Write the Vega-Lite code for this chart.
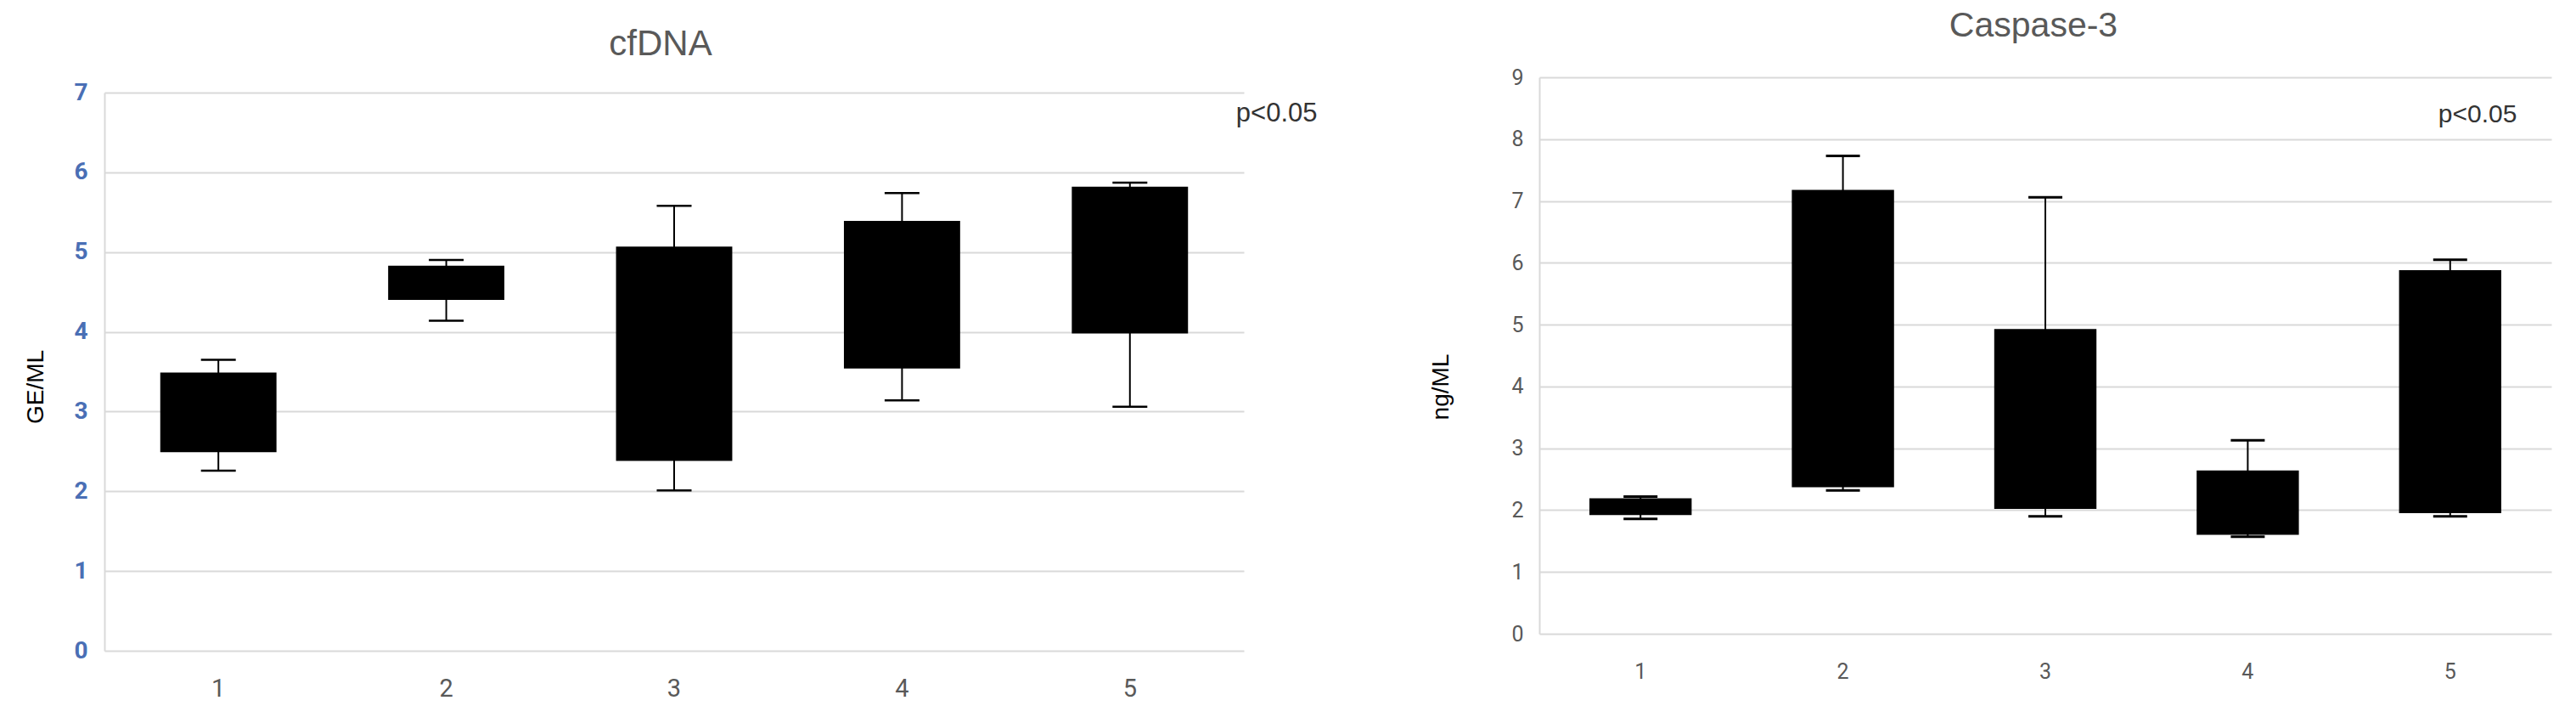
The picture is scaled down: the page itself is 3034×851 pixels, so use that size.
{
  "$schema": "https://vega.github.io/schema/vega-lite/v6.json",
  "background": "white",
  "padding": {"left": 28, "top": 10, "right": 5, "bottom": 5},
  "config": {"view": {"stroke": null}},
  "datasets": {
    "cfdna": [
      {"group": "1", "min": 2.26, "q1": 2.49, "q3": 3.49, "max": 3.65},
      {"group": "2", "min": 4.14, "q1": 4.40, "q3": 4.83, "max": 4.90},
      {"group": "3", "min": 2.01, "q1": 2.38, "q3": 5.07, "max": 5.58},
      {"group": "4", "min": 3.14, "q1": 3.54, "q3": 5.39, "max": 5.74},
      {"group": "5", "min": 3.06, "q1": 3.98, "q3": 5.82, "max": 5.87}
    ],
    "casp": [
      {"group": "1", "min": 1.86, "q1": 1.92, "q3": 2.19, "max": 2.22},
      {"group": "2", "min": 2.32, "q1": 2.37, "q3": 7.18, "max": 7.73},
      {"group": "3", "min": 1.90, "q1": 2.02, "q3": 4.93, "max": 7.06},
      {"group": "4", "min": 1.57, "q1": 1.60, "q3": 2.64, "max": 3.13},
      {"group": "5", "min": 1.90, "q1": 1.95, "q3": 5.88, "max": 6.05}
    ]
  },
  "spacing": 131,
  "hconcat": [
    {
      "width": 1342,
      "height": 675,
      "title": {"text": "cfDNA", "fontSize": 42, "font": "Liberation Sans", "fontWeight": "normal", "color": "#595959", "dx": -16, "offset": 17, "frame": "group"},
      "data": {"name": "cfdna"},
      "encoding": {
        "x": {"field": "group", "type": "ordinal", "scale": {"paddingInner": 0.49, "paddingOuter": 0.245},
          "axis": {"title": null, "labelAngle": 0, "domain": false, "ticks": false, "grid": false, "labelFont": "Roboto", "labelFontSize": 29, "labelColor": "#595959", "labelPadding": 30}}
      },
      "layer": [
        {
          "mark": {"type": "rule", "color": "black", "strokeWidth": 2},
          "encoding": {
            "y": {"field": "min", "type": "quantitative", "scale": {"domain": [0, 7], "range": [675, 18]},
              "axis": {"title": "GE/ML", "titleFont": "Liberation Sans", "titleFontSize": 28, "titleFontWeight": "normal", "titleColor": "black", "titleAngle": 270, "titleBaseline": "bottom", "titleAlign": "center", "titleX": -67, "titleY": 364,
                "values": [0, 1, 2, 3, 4, 5, 6, 7], "format": "d", "grid": true, "gridColor": "#d9d9d9", "gridWidth": 2, "domain": true, "domainColor": "#d9d9d9", "domainWidth": 2, "ticks": false,
                "labelFont": "Roboto", "labelFontWeight": "bold", "labelFontSize": 28, "labelColor": "#4a6fb5", "labelPadding": 20}},
            "y2": {"field": "max"}
          }
        },
        {
          "mark": {"type": "bar", "color": "black"},
          "encoding": {"y": {"field": "q1", "type": "quantitative"}, "y2": {"field": "q3"}}
        },
        {
          "mark": {"type": "tick", "color": "black", "thickness": 2.5, "size": 41, "opacity": 1},
          "encoding": {"y": {"field": "min", "type": "quantitative"}}
        },
        {
          "mark": {"type": "tick", "color": "black", "thickness": 2.5, "size": 41, "opacity": 1},
          "encoding": {"y": {"field": "max", "type": "quantitative"}}
        },
        {
          "data": {"values": [{"note": "p<0.05"}]},
          "mark": {"type": "text", "font": "Liberation Sans", "fontSize": 31, "color": "#333333", "align": "left", "baseline": "middle", "dx": 125},
          "encoding": {"x": {"datum": "5"}, "y": {"datum": 6.73}, "text": {"field": "note"}}
        }
      ]
    },
    {
      "width": 1192,
      "height": 655,
      "title": {"text": "Caspase-3", "fontSize": 41, "font": "Liberation Sans", "fontWeight": "normal", "color": "#595959", "dx": -14, "offset": 27, "frame": "group"},
      "data": {"name": "casp"},
      "encoding": {
        "x": {"field": "group", "type": "ordinal", "scale": {"paddingInner": 0.495, "paddingOuter": 0.2475},
          "axis": {"title": null, "labelAngle": 0, "domain": false, "ticks": false, "grid": false, "labelFont": "Roboto", "labelFontSize": 25, "labelColor": "#595959", "labelPadding": 32}}
      },
      "layer": [
        {
          "mark": {"type": "rule", "color": "black", "strokeWidth": 2},
          "encoding": {
            "y": {"field": "min", "type": "quantitative", "scale": {"domain": [0, 9]},
              "axis": {"title": "ng/ML", "titleFont": "Liberation Sans", "titleFontSize": 28, "titleFontWeight": "normal", "titleColor": "black", "titleAngle": 270, "titleBaseline": "bottom", "titleAlign": "center", "titleX": -102, "titleY": 364,
                "values": [0, 1, 2, 3, 4, 5, 6, 7, 8, 9], "format": "d", "grid": true, "gridColor": "#d9d9d9", "gridWidth": 2, "domain": true, "domainColor": "#d9d9d9", "domainWidth": 2, "ticks": false,
                "labelFont": "Roboto", "labelFontSize": 25, "labelColor": "#595959", "labelPadding": 19}},
            "y2": {"field": "max"}
          }
        },
        {
          "mark": {"type": "bar", "color": "black"},
          "encoding": {"y": {"field": "q1", "type": "quantitative"}, "y2": {"field": "q3"}}
        },
        {
          "mark": {"type": "tick", "color": "black", "thickness": 3, "size": 40, "opacity": 1},
          "encoding": {"y": {"field": "min", "type": "quantitative"}}
        },
        {
          "mark": {"type": "tick", "color": "black", "thickness": 3, "size": 40, "opacity": 1},
          "encoding": {"y": {"field": "max", "type": "quantitative"}}
        },
        {
          "data": {"values": [{"note": "p<0.05"}]},
          "mark": {"type": "text", "font": "Liberation Sans", "fontSize": 30, "color": "#333333", "align": "left", "baseline": "middle", "dx": -14},
          "encoding": {"x": {"datum": "5"}, "y": {"datum": 8.4}, "text": {"field": "note"}}
        }
      ]
    }
  ]
}
